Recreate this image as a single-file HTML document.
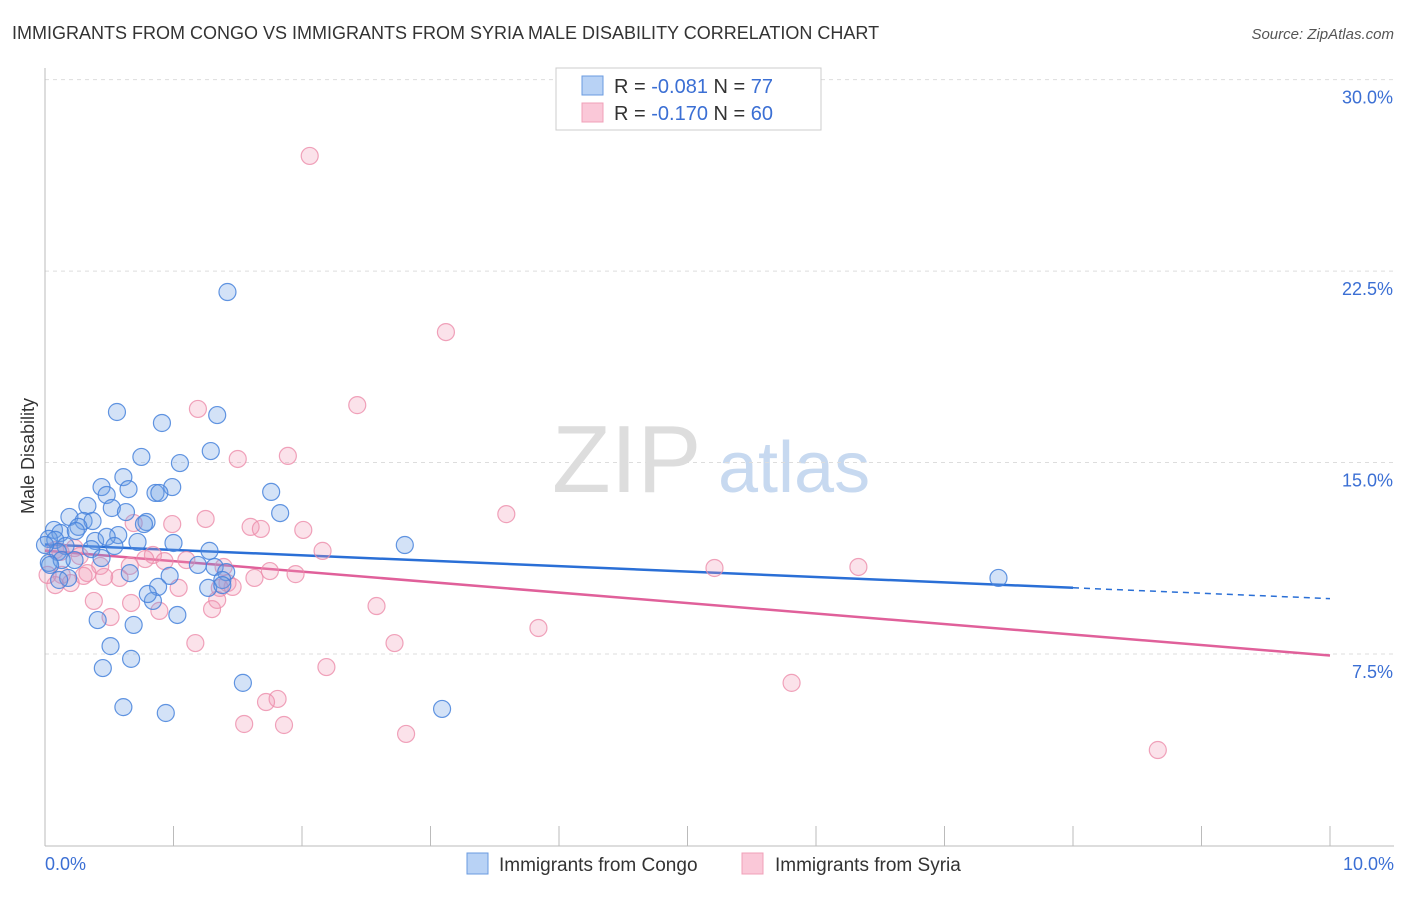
<!DOCTYPE html>
<html><head><meta charset="utf-8"><style>
body{margin:0;background:#fff;font-family:"Liberation Sans",sans-serif}
svg text{font-family:"Liberation Sans",sans-serif}
</style></head><body>
<svg id="chart" width="1406" height="892" xmlns="http://www.w3.org/2000/svg">
<text x="12" y="39" font-size="18" fill="#333">IMMIGRANTS FROM CONGO VS IMMIGRANTS FROM SYRIA MALE DISABILITY CORRELATION CHART</text>
<text x="1394" y="39" font-size="15" fill="#555" text-anchor="end" font-style="italic">Source: ZipAtlas.com</text>
<g>
<text x="552" y="492" font-size="96" fill="#ddd" font-family="Liberation Serif, serif">ZIP</text>
<text x="718" y="492" font-size="72" fill="#c7d9f0">atlas</text>
</g>
<g id="grid"></g><g id="axes"></g>
<g id="trends"></g>
<g id="pts"></g>
<text transform="translate(34,456) rotate(-90)" font-size="18" fill="#333" text-anchor="middle">Male Disability</text>
<g>
<rect x="556" y="68" width="265" height="62" fill="#fff" stroke="#ccc"/>
<rect x="582" y="76" width="21" height="19" fill="#b8d2f5" stroke="#6a9be0"/>
<rect x="582" y="103" width="21" height="19" fill="#fac8d8" stroke="#f0a0b8"/>
<text x="614" y="93" font-size="20" fill="#333">R = <tspan fill="#3b6fd4">-0.081</tspan>   N = <tspan fill="#3b6fd4">77</tspan></text>
<text x="614" y="120" font-size="20" fill="#333">R = <tspan fill="#3b6fd4">-0.170</tspan>   N = <tspan fill="#3b6fd4">60</tspan></text>
</g>
<g>
<rect x="467" y="853" width="21" height="21" fill="#b8d2f5" stroke="#6a9be0"/>
<text x="499" y="871" font-size="19" fill="#333">Immigrants from Congo</text>
<rect x="742" y="853" width="21" height="21" fill="#fac8d8" stroke="#f0a0b8"/>
<text x="775" y="871" font-size="19" fill="#333">Immigrants from Syria</text>
</g>
</svg>
<script>
const xTicks=[0,1,2,3,4,5,6,7,8,9,10];
const yTicks=[7.5,15,22.5,30];
const yTickLabels=["7.5%","15.0%","22.5%","30.0%"];
const xTickLabels=["0.0%","10.0%"];
const congoX=[1.42,0.56,0.91,1.34,1.29,0.75,1.05,0.61,0.44,0.65,0.48,0.99,0.86,0.89,1.76,0.33,0.52,0.63,1.83,0.19,0.30,0.37,0.26,0.79,0.77,0.07,0.12,0.57,0.24,0.03,0.08,0.39,0.48,0.72,1.00,0.16,0.36,0.54,1.28,2.80,0.10,0.23,0.03,0.13,0.44,1.19,1.32,1.41,0.66,0.97,0.18,0.11,1.38,0.88,1.27,0.84,0.80,0.41,0.69,1.03,0.51,0.67,0.45,1.54,0.61,0.94,3.09,7.42,1.38,0.00,0.04];
const congoY=[21.68,16.98,16.55,16.86,15.45,15.22,14.98,14.43,14.04,13.96,13.73,14.04,13.81,13.81,13.85,13.30,13.22,13.06,13.02,12.87,12.71,12.71,12.48,12.67,12.59,12.36,12.24,12.16,12.32,12.01,11.97,11.93,12.09,11.89,11.85,11.73,11.61,11.73,11.54,11.77,11.50,11.18,11.07,11.18,11.26,10.99,10.91,10.71,10.67,10.56,10.48,10.40,10.40,10.13,10.09,9.58,9.85,8.83,8.64,9.03,7.81,7.31,6.95,6.37,5.42,5.19,5.35,10.48,10.20,11.77,10.99];
const syriaX=[2.06,3.12,2.43,1.19,1.50,1.89,3.59,1.25,0.99,1.60,1.68,2.01,0.69,2.16,0.84,0.78,0.93,1.10,0.08,0.12,0.23,0.27,0.43,0.66,1.39,1.75,1.95,1.63,5.21,6.33,0.33,0.58,0.46,0.13,0.30,0.20,1.42,1.46,1.36,1.04,1.34,0.67,0.89,1.30,2.58,0.51,3.84,1.17,2.72,2.19,5.81,1.81,1.72,1.55,1.86,2.81,8.66,0.08,0.02,0.38];
const syriaY=[27.01,20.11,17.25,17.10,15.14,15.26,12.98,12.79,12.59,12.48,12.40,12.36,12.63,11.54,11.38,11.22,11.14,11.18,11.57,11.50,11.65,11.34,10.95,10.95,10.91,10.75,10.63,10.48,10.87,10.91,10.67,10.48,10.52,10.60,10.56,10.28,10.28,10.13,10.09,10.09,9.62,9.50,9.19,9.26,9.38,8.95,8.52,7.93,7.93,6.99,6.37,5.74,5.62,4.76,4.72,4.37,3.74,10.20,10.60,9.58];
const congoTrend=[11.79,9.67];
const syriaTrend=[11.55,7.44];
const X=v=>45+v*128.5, Y=v=>845.5-v*25.53;
const NS="http://www.w3.org/2000/svg";
function mk(tag,attrs,parent){const e=document.createElementNS(NS,tag);for(const k in attrs)e.setAttribute(k,attrs[k]);parent.appendChild(e);return e;}
const grid=document.getElementById('grid'),axes=document.getElementById('axes');
yTicks.forEach((t,i)=>{
  const l=mk('line',{x1:45,x2:1394,y1:Y(t),y2:Y(t),stroke:'#ddd','stroke-dasharray':'4,4'},grid);
  
  
  const tx=mk('text',{x:1393,y:Y(t)+24,'font-size':18,fill:'#3b6fd4','text-anchor':'end'},axes);
  tx.textContent=yTickLabels[i];
  
  
});
const ax=mk('line',{x1:45,x2:45,y1:68,y2:846,stroke:'#bbb'},axes);


const bx=mk('line',{x1:45,x2:1394,y1:846,y2:846,stroke:'#bbb'},axes);


xTicks.forEach(t=>{
  const l=mk('line',{x1:X(t),x2:X(t),y1:826,y2:846,stroke:'#bbb'},axes);
  
  
});
[[0,'start',45],[10,'end',1394]].forEach((a,i)=>{
  const tx=mk('text',{x:a[2],y:870,'font-size':18,fill:'#3b6fd4','text-anchor':a[1]},axes);
  tx.textContent=xTickLabels[i];
  
  
});
const pts=document.getElementById('pts');
function draw(xs,ys,fill,stroke,name){xs.forEach((x,i)=>{
  const c=mk('circle',{cx:X(x),cy:Y(ys[i]),r:8.5,fill:fill,stroke:stroke,'stroke-width':1.2},pts);
  
  
});}
draw(syriaX,syriaY,'rgba(240,150,180,0.28)','rgba(236,140,170,0.8)','syria-point');
draw(congoX,congoY,'rgba(110,160,230,0.3)','rgba(70,130,220,0.85)','congo-point');
const tr=document.getElementById('trends');
const f=(a,x)=>a[0]+(a[1]-a[0])*x/10;
let l=mk('line',{x1:X(0),y1:Y(f(congoTrend,0)),x2:X(8),y2:Y(f(congoTrend,8)),stroke:'#2a6fd6','stroke-width':2.5},tr);


l=mk('line',{x1:X(8),y1:Y(f(congoTrend,8)),x2:X(10),y2:Y(f(congoTrend,10)),stroke:'#2a6fd6','stroke-width':1.5,'stroke-dasharray':'6,5'},tr);


l=mk('line',{x1:X(0),y1:Y(f(syriaTrend,0)),x2:X(10),y2:Y(f(syriaTrend,10)),stroke:'#e0609a','stroke-width':2.5},tr);


</script>
</body></html>
